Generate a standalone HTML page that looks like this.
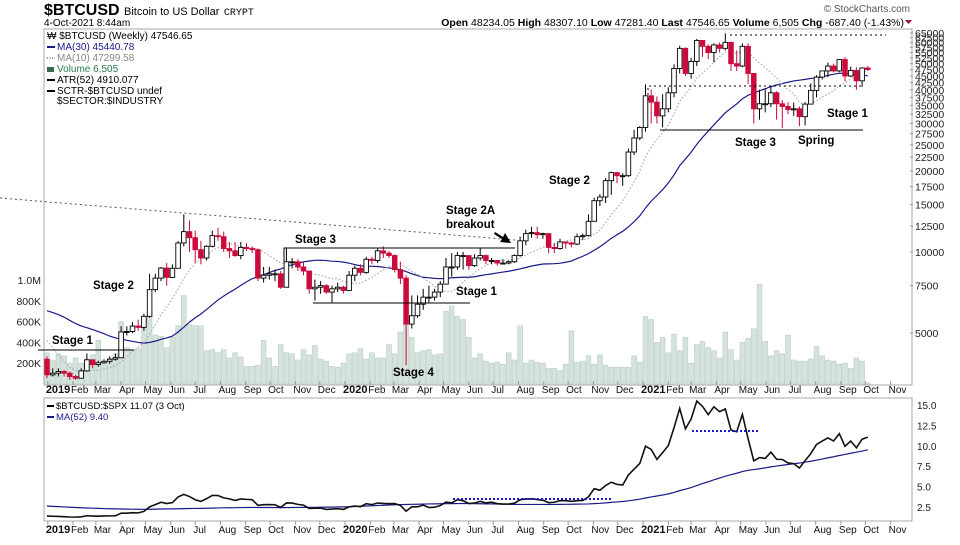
<!DOCTYPE html>
<html><head><meta charset="utf-8"><style>
body{margin:0;background:#fff;font-family:"Liberation Sans",Arial,sans-serif}
svg text{font-family:"Liberation Sans",Arial,sans-serif}
</style></head><body>
<svg id="c" width="960" height="540" viewBox="0 0 960 540" xmlns="http://www.w3.org/2000/svg">
<g>
<text x="44" y="15" font-size="16" font-weight="bold">$BTCUSD <tspan font-size="11" font-weight="normal">Bitcoin to US Dollar</tspan> <tspan font-size="10" font-family="Liberation Mono" font-weight="normal">CRYPT</tspan></text>
<text x="44" y="26" font-size="10">4-Oct-2021 8:44am</text>
<text x="904" y="26" font-size="10.5" text-anchor="end"><tspan font-weight="bold">Open</tspan> 48234.05 <tspan font-weight="bold">High</tspan> 48307.10 <tspan font-weight="bold">Low</tspan> 47281.40 <tspan font-weight="bold">Last</tspan> 47546.65 <tspan font-weight="bold">Volume</tspan> 6,505 <tspan font-weight="bold">Chg</tspan> -687.40 (-1.43%)</text>
<path d="M905,20 l7,0 l-3.5,4z" fill="#a0103a"/>
<text x="910" y="12" font-size="10" fill="#555" text-anchor="end">© StockCharts.com</text>
</g>
<rect x="44" y="29" width="868" height="356" fill="none" stroke="#aaa"/>
<rect x="44" y="398" width="868" height="123" fill="none" stroke="#aaa"/>
<g id="vol"></g>
<g id="mas"></g>
<g id="cdl"></g>
<g id="axes"></g>
<g id="ratio"></g>
<g font-size="11.5" font-weight="bold">
<line x1="0" y1="198" x2="515" y2="240" stroke="#555" stroke-dasharray="2,3"/>
<line x1="38" y1="350" x2="134" y2="350" stroke="#000"/>
<polyline points="284,262 284,248 515,248" fill="none" stroke="#000"/>
<line x1="313" y1="303" x2="470" y2="303" stroke="#000"/>
<line x1="730" y1="35" x2="886" y2="35" stroke="#000" stroke-dasharray="2,3"/>
<polyline points="648,100 648,86 863,86" fill="none" stroke="#000" stroke-dasharray="2,3"/>
<line x1="660" y1="130" x2="863" y2="130" stroke="#000"/>
<path d="M495,232 L503,237 L505,233 L511,243 L500,242 L502,239 L494,234z" fill="#000"/>
<text x="52" y="344">Stage 1</text>
<text x="93" y="289">Stage 2</text>
<text x="295" y="243">Stage 3</text>
<text x="393" y="376">Stage 4</text>
<text x="456" y="295">Stage 1</text>
<text x="446" y="214">Stage 2A</text>
<text x="446" y="228">breakout</text>
<text x="549" y="184">Stage 2</text>
<text x="735" y="146">Stage 3</text>
<text x="798" y="144">Spring</text>
<text x="827" y="117">Stage 1</text>
<line x1="692" y1="431" x2="760" y2="431" stroke="#1a1acc" stroke-width="2" stroke-dasharray="2,2"/>
<line x1="453" y1="499" x2="613" y2="499" stroke="#1a1acc" stroke-width="2" stroke-dasharray="2,2"/>
</g>
<g font-size="10">
<rect x="45" y="30" width="200" height="74" fill="#fff"/>
<text x="47" y="39">₩ $BTCUSD (Weekly) 47546.65</text>
<line x1="47" y1="47" x2="55" y2="47" stroke="#1a1a8c" stroke-width="2"/><text x="57" y="50" fill="#1a1a8c">MA(30) 45440.78</text>
<line x1="47" y1="58" x2="55" y2="58" stroke="#999" stroke-width="2" stroke-dasharray="1,1.5"/><text x="57" y="61" fill="#888">MA(10) 47299.58</text>
<rect x="47" y="67" width="7" height="5" fill="#3a6a4a"/><text x="57" y="72" fill="#2a7a4a">Volume 6,505</text>
<line x1="47" y1="80" x2="55" y2="80" stroke="#000" stroke-width="2"/><text x="57" y="83">ATR(52) 4910.077</text>
<line x1="47" y1="91" x2="55" y2="91" stroke="#000" stroke-width="2"/><text x="57" y="94">SCTR-$BTCUSD undef</text>
<text x="57" y="104">$SECTOR:$INDUSTRY</text>
</g>
<g font-size="9.5">
<line x1="47" y1="406" x2="54" y2="406" stroke="#000" stroke-width="2"/><text x="56" y="409">$BTCUSD:$SPX 11.07 (3 Oct)</text>
<line x1="47" y1="417" x2="54" y2="417" stroke="#1a1a8c" stroke-width="2"/><text x="56" y="420" fill="#1a1a8c">MA(52) 9.40</text>
</g>
</svg>
<script>
const prior2018=[6300,6700,7400,8200,7700,7000,6300,6400,6500,6700,7000,6300,6400,6600,6500,6600,6600,6400,6500,6500,6400,6400,5600,5500,4300,4000,3900,3500,3900];
const closes=[3500,3550,3600,3550,3450,3400,3620,3980,3820,3880,3930,4000,4050,5050,5070,5310,5250,5770,7250,8000,8720,8050,8700,10800,11900,11300,10200,9500,10500,11500,11400,10300,10100,9700,10400,10300,10200,8000,8200,8300,8300,7400,9200,9200,8800,8500,7300,7400,7500,7100,7300,7400,7200,
8200,8700,8400,9400,9300,10100,9900,9700,8600,8000,5400,5800,6400,6800,6800,7100,7600,8800,8800,9700,9700,8900,9500,9700,9300,9300,9100,9100,9200,9700,11000,11700,11800,11600,11700,10400,10300,10900,10800,10700,11400,11500,13000,15500,16000,18400,19700,19200,19200,23500,26500,29000,
38000,36000,32000,34000,39000,48000,57000,46000,51000,61000,58000,55000,58700,57000,60000,50000,49000,58000,46000,34000,35500,35500,39000,35500,34700,33800,34000,31800,35400,39800,44600,47000,49000,47000,51800,45000,47200,43200,48200,47546];
const highs=[4100,3700,3700,3650,3600,3500,3700,4200,4000,3950,4000,4100,4200,5300,5300,5500,5600,5900,8300,8300,8800,9100,9000,11000,13800,13100,12000,11000,10600,12000,12300,11900,10900,10900,10900,10800,10500,10300,8800,8800,8600,8500,10400,9500,9400,9200,8500,7900,7800,7600,7500,7700,7500,
8500,8900,9000,9600,9600,10300,10500,10100,9800,9200,8200,6900,6900,7300,7500,7300,7800,9500,9900,10000,10000,9700,9800,10400,9800,9500,9300,9400,9300,9800,11400,12100,12400,12400,11800,11700,10800,11200,10900,10900,11700,11700,13800,15900,16400,18800,19900,19800,19600,24200,28400,29300,
41900,40100,37800,38500,40900,49700,58300,57500,52600,61800,61200,59000,59500,60000,64800,57500,56000,59500,59500,45800,40000,40500,41300,39500,36600,36000,35900,34700,36000,42300,45300,47100,50500,50000,51800,52900,48800,48500,48500,49000];
const lows=[3400,3450,3450,3450,3350,3350,3400,3600,3700,3750,3850,3850,3950,4050,4900,5000,5100,5100,5700,7100,7800,7500,8000,8700,10500,10000,9100,9000,9300,10400,11000,10000,9500,9600,9400,10100,9900,7800,7700,7900,7800,7300,7400,8700,8500,8200,7000,6600,7000,7000,6500,7100,7000,
7200,7800,8200,8300,9000,9100,9500,9500,8400,7600,3800,5200,5700,6100,6500,6600,6800,7600,8100,8600,8600,8600,8800,9300,9000,9000,8900,9000,9000,9100,9600,10600,11300,11200,11200,9900,9900,10200,10300,10400,10600,11100,11400,13000,14800,15200,16300,18000,17600,19000,22900,26000,
28000,30000,30000,29000,33000,37500,46000,45000,44000,49000,53000,52000,50500,55000,56000,47000,47000,48500,42000,30000,31000,33000,34500,31000,28800,32500,32000,29300,29500,35400,37500,43700,44500,46400,46500,43000,44600,40000,41000,47000];
const volumesK=[300,230,290,270,200,250,200,240,280,420,220,250,290,600,350,330,340,540,720,470,460,350,450,560,850,570,560,560,320,330,300,330,250,300,260,170,170,180,420,250,170,380,300,290,230,330,280,370,240,220,170,160,200,
290,300,340,240,300,250,250,380,290,500,870,450,300,320,330,280,290,700,750,650,620,450,250,290,220,200,210,190,300,230,560,200,230,210,200,150,150,130,190,510,210,220,270,190,280,180,160,160,160,160,270,210,
650,620,400,450,300,480,320,450,200,380,410,350,320,250,500,330,230,400,440,530,960,410,270,320,290,470,230,220,220,240,360,270,230,220,190,200,150,250,220,10];
const spx=[2530,2600,2670,2700,2710,2700,2780,2790,2740,2820,2800,2830,2870,2900,2910,2940,2950,2940,2880,2860,2830,2750,2870,2890,2940,2990,3010,2980,2980,2930,2920,2850,2890,2930,2980,3000,3000,2960,2950,2970,2990,3020,3070,3090,3120,3110,3140,3150,3170,3220,3240,3230,3260,
3270,3330,3300,3230,3330,3380,3370,3340,2950,2970,2710,2300,2540,2490,2790,2870,2840,2830,2930,2860,2960,3040,3190,3040,3100,3010,3130,3180,3220,3270,3250,3350,3370,3400,3510,3430,3340,3320,3300,3350,3480,3480,3460,3270,3510,3590,3560,3640,3700,3660,3710,3700,
3820,3770,3840,3710,3890,3930,3910,3810,3840,3940,3910,3980,3970,4020,4130,4190,4180,4190,4230,4170,4150,4200,4230,4250,4170,4280,4350,4370,4330,4400,4390,4440,4470,4440,4510,4530,4460,4430,4460,4300];
const priorRatio=[2.9,3.0,3.0,3.1,3.0,2.9,2.8,2.8,2.9,2.9,3.0,2.8,2.9,3.0,2.9,2.9,2.9,3.0,2.9,2.8,2.7,2.7,2.5,2.4,2.1,2.0,1.9,1.7,1.8,1.6];
const priceTicks=[65000,62500,60000,57500,55000,52500,50000,47500,45000,42500,40000,37500,35000,32500,30000,27500,25000,22500,20000,17500,15000,12500,10000,7500,5000];
const volTicks=[200,400,600,800,1000];
const volTickLabels=["200K","400K","600K","800K","1.0M"];
const ratioTicks=[2.5,5.0,7.5,10.0,12.5,15.0];
const firstOpen=4000;

const NS="http://www.w3.org/2000/svg";
function mk(tag,attrs,parent){const e=document.createElementNS(NS,tag);for(const k in attrs)e.setAttribute(k,attrs[k]);parent.appendChild(e);return e;}
const xI=i=>47+i*5.7;
const yP=p=>252-117*Math.log(p/10000);
const yV=v=>384-v*0.104;
const yR=v=>405+(15-v)*8.16;
const N=closes.length;
const G=id=>document.getElementById(id);

const vg=G('vol');
volumesK.forEach((v,i)=>{const r=mk('rect',{x:xI(i)-2.4,y:yV(v),width:4.8,height:384-yV(v),fill:'#d5e3dc',stroke:'#b9cfc3','stroke-width':0.6},vg);

});

function ma(series,pre,n){const all=pre.concat(series);const out=[];for(let i=0;i<series.length;i++){const j=i+pre.length;const s=all.slice(Math.max(0,j-n+1),j+1);out.push(s.reduce((a,b)=>a+b,0)/s.length);}return out;}
const mg=G('mas');
const ma30=ma(closes,prior2018,30),ma10=ma(closes,prior2018,10);
const p30=mk('polyline',{points:ma30.map((v,i)=>xI(i)+','+yP(v)).join(' '),fill:'none',stroke:'#1a1a8c','stroke-width':1.2},mg);


const p10=mk('polyline',{points:ma10.map((v,i)=>xI(i)+','+yP(v)).join(' '),fill:'none',stroke:'#aab','stroke-width':1.2,'stroke-dasharray':'1.5,2'},mg);



const cg=G('cdl');
for(let i=0;i<N;i++){
 const o=i?closes[i-1]:firstOpen,c=closes[i];
 const h=Math.max(highs[i],o,c),l=Math.min(lows[i],o,c);
 const up=c>=o,col=up?'#000':'#cc0a3c';
 const w=mk('line',{x1:xI(i),x2:xI(i),y1:yP(h),y2:yP(l),stroke:col,'stroke-width':1},cg);
 
 
 const top=yP(Math.max(o,c)),bh=Math.max(1,yP(Math.min(o,c))-top);
 const b=mk('rect',{x:xI(i)-2.3,y:top,width:4.6,height:bh,fill:up?'#fff':'#cc0a3c',stroke:col,'stroke-width':0.9},cg);
 
 
}

const ag=G('axes');
priceTicks.forEach(p=>{const t=mk('text',{x:915,y:yP(p)+4,'font-size':10.5,fill:'#222'},ag);t.textContent=p;


mk('line',{x1:910,x2:913,y1:yP(p),y2:yP(p),stroke:'#999'},ag);});
volTicks.forEach((v,k)=>{const t=mk('text',{x:41,y:yV(v)+4,'font-size':10.5,'text-anchor':'end',fill:'#222'},ag);t.textContent=volTickLabels[k];

});
ratioTicks.forEach(v=>{const t=mk('text',{x:917,y:yR(v)+4,'font-size':10,fill:'#222'},ag);t.textContent=v.toFixed(1);

});
const base=Date.UTC(2018,11,31);
const mnames=['Jan','Feb','Mar','Apr','May','Jun','Jul','Aug','Sep','Oct','Nov','Dec'];
[2019,2020,2021].forEach(y=>{for(let m=0;m<12;m++){if(y===2021&&m>10)break;
 const x=47+(Date.UTC(y,m,1)-base)/864e5/7*5.7;
 [393,533].forEach(yy=>{const t=mk('text',{x:x-2,y:yy,'font-size':m===0?11:10,'font-weight':m===0?'bold':'normal',fill:'#111'},ag);
 t.textContent=m===0?String(y):mnames[m];
 
 
 mk('line',{x1:x,x2:x,y1:yy-8,y2:yy-12,stroke:'#999'},ag);});}});

const rg=G('ratio');
const ratio=closes.map((c,i)=>c/spx[i]);
const rma=ma(ratio,priorRatio,52);
const rl=mk('polyline',{points:rma.map((v,i)=>xI(i)+','+yR(v)).join(' '),fill:'none',stroke:'#1a1a8c','stroke-width':1.2},rg);


const rr=mk('polyline',{points:ratio.map((v,i)=>xI(i)+','+yR(v)).join(' '),fill:'none',stroke:'#111','stroke-width':1.6},rg);


</script>
</body></html>
